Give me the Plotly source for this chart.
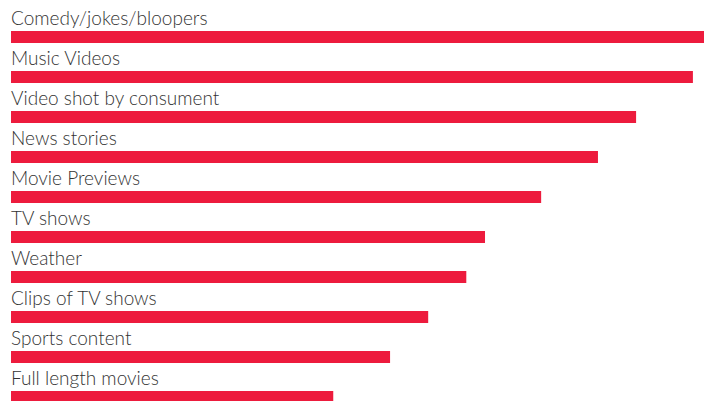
import plotly.graph_objects as go

categories = ["Comedy/jokes/bloopers", "Music Videos", "Video shot by consument",
              "News stories", "Movie Previews", "TV shows", "Weather",
              "Clips of TV shows", "Sports content", "Full length movies"]
values = [100, 98.4, 90.2, 84.7, 76.5, 68.4, 65.7, 60.2, 54.7, 46.5]

idx = list(range(len(categories)))
fig = go.Figure(go.Bar(
    x=values, y=idx, orientation="h",
    marker=dict(color="#ED1B3D", line=dict(width=0)),
    width=0.3, hoverinfo="skip",
))

for i, c in zip(idx, categories):
    fig.add_annotation(x=0, y=i - 0.18, xref="x", yref="y", text=c,
                       showarrow=False, xanchor="left", yanchor="bottom",
                       borderpad=0, xshift=-1,
                       font=dict(family="Lato", size=19, color="#333333", weight=300))

fig.update_layout(
    width=704, height=401, margin=dict(l=11, r=0, t=0, b=0),
    plot_bgcolor="white", paper_bgcolor="white", showlegend=False,
    xaxis=dict(range=[0, 100], visible=False, fixedrange=True),
    yaxis=dict(range=[9.1, -0.925], visible=False, fixedrange=True),
)
fig.write_html("out.html")
